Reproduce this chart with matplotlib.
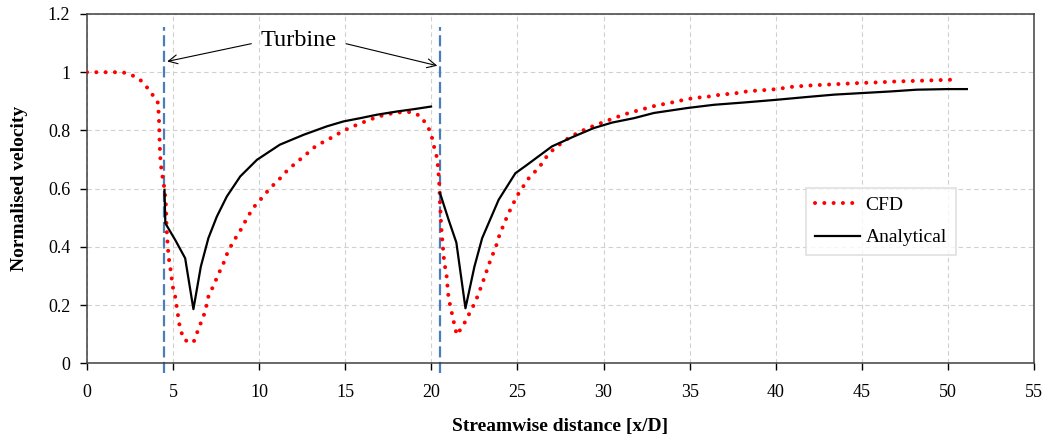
import matplotlib
matplotlib.use('Agg')
import matplotlib.pyplot as plt
from matplotlib.ticker import FuncFormatter, MultipleLocator

plt.rcParams.update({
    'font.family': 'Liberation Serif',
    'font.size': 13,
})

# CFD (dotted red)
cfd_x = [0.0, 0.5, 1.0, 1.5, 2.07, 2.6, 3.04, 3.47, 3.95, 4.1, 4.15, 4.18, 4.2, 4.22,
         4.24, 4.28, 4.35, 4.45, 4.52, 4.59, 4.6, 4.62, 4.65, 4.7, 4.73, 4.83, 4.98,
         5.12, 5.31, 5.4, 5.64, 5.9, 6.18, 6.38, 6.61, 6.86, 7.05, 7.34, 7.64, 7.93,
         8.16, 8.47, 8.74, 9.05, 9.28, 9.57, 9.8, 10.1, 10.64, 11.18, 11.7, 12.23,
         12.77, 13.26, 13.78, 14.32, 14.8, 15.33, 15.83, 16.3, 16.84, 17.33, 17.85,
         18.35, 18.88, 19.4, 19.75, 19.9, 20.04, 20.15, 20.33, 20.4, 20.45, 20.48,
         20.5, 20.52, 20.55, 20.6, 20.7, 20.75, 20.87, 20.92, 21.0, 21.14, 21.27,
         21.4, 21.5, 21.72, 21.92, 22.2, 22.46, 22.69, 23.0, 23.2, 23.47, 23.72,
         23.91, 24.17, 24.44, 24.75, 25.02, 25.33, 25.66, 25.95, 26.25, 26.53, 27.02,
         27.5, 28.04, 28.56, 29.09, 29.63, 30.1, 30.6, 31.14, 31.66, 32.15, 32.69,
         33.2, 33.7, 34.24, 34.7, 35.2, 35.7, 36.2, 36.7, 37.2, 37.7, 38.2, 38.7,
         39.2, 39.7, 40.2, 40.8, 41.84, 42.85, 43.88, 44.9, 45.9, 46.92, 47.95,
         49.0, 50.08, 50.6]
cfd_y = [1.0, 1.0, 1.0, 1.0, 1.0, 0.99, 0.977, 0.949, 0.911, 0.9, 0.871, 0.837, 0.791,
         0.757, 0.722, 0.688, 0.653, 0.619, 0.585, 0.539, 0.504, 0.47, 0.435, 0.401,
         0.367, 0.332, 0.263, 0.229, 0.155, 0.12, 0.08, 0.075, 0.071, 0.103, 0.138,
         0.177, 0.229, 0.266, 0.307, 0.344, 0.38, 0.415, 0.441, 0.47, 0.499, 0.525,
         0.545, 0.564, 0.602, 0.633, 0.667, 0.693, 0.72, 0.745, 0.762, 0.779, 0.796,
         0.811, 0.823, 0.834, 0.846, 0.854, 0.86, 0.863, 0.863, 0.848, 0.816, 0.8,
         0.774, 0.745, 0.705, 0.665, 0.624, 0.585, 0.545, 0.533, 0.493, 0.447, 0.378,
         0.344, 0.31, 0.275, 0.224, 0.186, 0.149, 0.115, 0.097, 0.12, 0.138, 0.17,
         0.2, 0.231, 0.281, 0.315, 0.361, 0.395, 0.433, 0.472, 0.51, 0.548, 0.579,
         0.607, 0.636, 0.655, 0.67, 0.699, 0.731, 0.754, 0.777, 0.793, 0.808, 0.82,
         0.831, 0.842, 0.854, 0.863, 0.871, 0.88, 0.888, 0.892, 0.9, 0.905, 0.911,
         0.914, 0.917, 0.922, 0.925, 0.928, 0.933, 0.936, 0.938, 0.94, 0.943, 0.949,
         0.954, 0.957, 0.96, 0.963, 0.965, 0.968, 0.97, 0.972, 0.974, 0.974]

# Analytical (solid black), two wake segments
ana1_x = [4.5, 4.55, 5.12, 5.7, 6.18, 6.61, 7.05, 7.54, 8.12, 8.9, 9.87, 11.2, 12.58,
          13.93, 14.9, 15.86, 16.84, 18.0, 18.98, 19.98]
ana1_y = [0.596, 0.481, 0.424, 0.361, 0.186, 0.332, 0.43, 0.504, 0.573, 0.642, 0.699,
          0.751, 0.785, 0.814, 0.831, 0.842, 0.854, 0.865, 0.873, 0.882]
ana2_x = [20.5, 21.0, 21.45, 21.98, 22.5, 22.95, 23.91, 24.88, 25.47, 27.0, 28.27,
          29.43, 30.5, 31.76, 32.93, 34.87, 36.4, 38.16, 40.0, 41.84, 43.4, 44.9,
          46.7, 48.2, 50.0, 51.1]
ana2_y = [0.585, 0.493, 0.415, 0.189, 0.332, 0.43, 0.562, 0.653, 0.678, 0.745, 0.779,
          0.808, 0.827, 0.842, 0.86, 0.877, 0.888, 0.896, 0.905, 0.915, 0.923, 0.928,
          0.934, 0.94, 0.942, 0.942]

turbine_x = [4.5, 20.5]


def main():
    fig = plt.figure(figsize=(10.47, 4.43), dpi=100)
    ax = fig.add_axes([0.0831, 0.18, 0.9045, 0.7884])

    ax.plot(cfd_x, cfd_y, color='#FF0000', lw=2.9, linestyle=(0, (0.01, 2.3)),
            dash_capstyle='round', label='CFD', zorder=3)
    ax.plot(ana1_x, ana1_y, color='black', lw=1.6, label='Analytical', zorder=4)
    ax.plot(ana2_x, ana2_y, color='black', lw=1.6, zorder=4)

    for tx in turbine_x:
        ax.plot([tx, tx], [-0.035, 1.155], color='#4A7EBB', lw=1.6,
                linestyle=(0, (5, 2)), clip_on=False, zorder=2)

    ax.annotate('', xy=(4.5, 1.035), xytext=(9.7, 1.1),
                arrowprops=dict(arrowstyle='->', color='black', lw=0.8,
                                mutation_scale=16))
    ax.annotate('', xy=(20.5, 1.02), xytext=(14.9, 1.1),
                arrowprops=dict(arrowstyle='->', color='black', lw=0.8,
                                mutation_scale=16))
    ax.text(12.3, 1.11, 'Turbine', fontsize=17.5, ha='center', va='center')

    ax.set_xlim(0, 55)
    ax.set_ylim(0, 1.2)
    ax.xaxis.set_major_locator(MultipleLocator(5))
    ax.yaxis.set_major_locator(MultipleLocator(0.2))
    ax.yaxis.set_major_formatter(FuncFormatter(lambda v, p: f'{v:g}'))
    ax.grid(True, color='#D0D0D0', linestyle=(0, (4, 3)), lw=0.8)
    ax.set_axisbelow(True)
    ax.tick_params(direction='out', length=5, width=1, labelsize=13)
    ax.tick_params(axis='x', pad=10)
    ax.tick_params(axis='y', pad=7)
    for s in ax.spines.values():
        s.set_color('#404040')
        s.set_linewidth(1.1)

    ax.set_xlabel('Streamwise distance [x/D]', fontsize=14, fontweight='bold', labelpad=12)
    ax.set_ylabel('Normalised velocity', fontsize=14, fontweight='bold', labelpad=14)

    leg = ax.legend(loc='upper left', bbox_to_anchor=(0.7595, 0.502), fontsize=14,
                    frameon=True, fancybox=False, edgecolor='#D8D8D8',
                    handlelength=2.3, handletextpad=0.3, borderpad=0.45,
                    labelspacing=0.75, borderaxespad=0)
    leg.get_frame().set_linewidth(1.2)

    fig.savefig('out.png', dpi=100)
    plt.close(fig)


if __name__ == '__main__':
    main()
